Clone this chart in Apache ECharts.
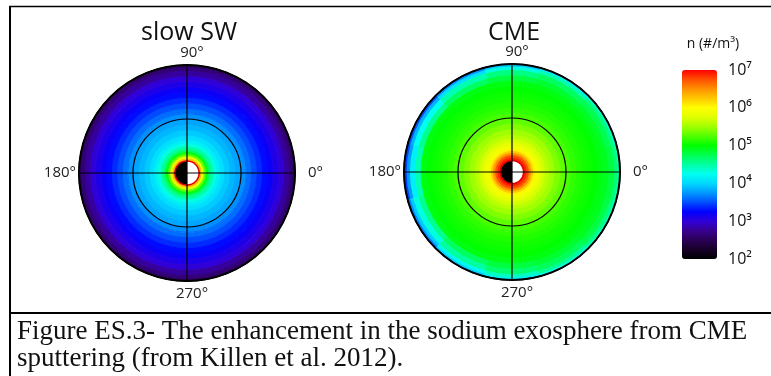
<!DOCTYPE html>
<html>
<head>
<meta charset="utf-8">
<script src="https://cdn.jsdelivr.net/npm/echarts@6/dist/echarts.min.js"></script>
<style>
  html, body { margin: 0; padding: 0; background: #fff; }
  #main { width: 771px; height: 376px; }
</style>
</head>
<body>
<div id="main"></div>
<script>
// ring edges, in units of the outer radius of each disk
const ringEdges = [0.10, 0.12, 0.14, 0.16, 0.18, 0.20, 0.22, 0.25, 0.28, 0.31, 0.35, 0.40,
  0.45, 0.50, 0.55, 0.60, 0.65, 0.70, 0.75, 0.80, 0.85, 0.90, 0.95, 0.98, 1.00];
// log10 n (#/m3) in each ring
const slowSW = [6.9, 6.3, 5.8, 5.3, 4.95, 4.7, 4.5, 4.3, 4.15, 4.05, 3.95, 3.87,
  3.8, 3.72, 3.6, 3.48, 3.38, 3.28, 3.2, 3.1, 3.0, 2.8, 2.65, 2.55];
const cme = [7.0, 6.9, 6.75, 6.5, 6.25, 6.05, 5.9, 5.8, 5.7, 5.6, 5.5, 5.4,
  5.3, 5.22, 5.15, 5.1, 5.06, 5.03, 5.0, 4.95];
// CME outer rings (0.85-1.0) by direction, every 30 deg from 0
const cmeOuterAngles = [0, 30, 60, 90, 120, 150, 180, 210, 240, 270, 300, 330];
const cmeOuter = [
  [4.9, 4.8, 4.65, 4.45],
  [4.88, 4.75, 4.6, 4.35],
  [4.85, 4.7, 4.45, 4.15],
  [4.8, 4.6, 4.3, 3.95],
  [4.7, 4.45, 4.05, 3.7],
  [4.55, 4.25, 3.85, 3.5],
  [4.45, 4.15, 3.75, 3.45],
  [4.55, 4.3, 3.95, 3.65],
  [4.7, 4.5, 4.2, 3.95],
  [4.8, 4.65, 4.4, 4.15],
  [4.85, 4.72, 4.55, 4.3],
  [4.9, 4.78, 4.62, 4.4]
];
const planetRadius = [0.105, 0.1];
const panelTitles = ["slow SW", "CME"];
const angleTicks = [0, 90, 180, 270];
const sup = { 2: "\u00b2", 3: "\u00b3", 4: "\u2074", 5: "\u2075", 6: "\u2076", 7: "\u2077" };

const colors = ["#000000", "#160028", "#2a0055", "#380090", "#3000d8", "#0000ff", "#0050ff",
  "#0098ff", "#00d8ff", "#00fff0", "#00ffa0", "#00ff50", "#00ff00", "#50ff00", "#a0ff00",
  "#e0ff00", "#ffff00", "#ffc800", "#ff9000", "#ff5000", "#ff0000"];

// [r0, r1, log n, angle from, angle to]
function rings(vals) {
  return vals.map((v, i) => [ringEdges[i], ringEdges[i + 1], v, 0, 360]);
}
function cmeCells() {
  const out = rings(cme);
  const k0 = cme.length;
  cmeOuterAngles.forEach((a, j) => {
    cmeOuter[j].forEach((v, k) => {
      out.push([ringEdges[k0 + k], ringEdges[k0 + k + 1], v, a - 15, a + 15]);
    });
  });
  return out;
}

function ringItem(params, api) {
  const cs = params.coordSys;
  const a = api.coord([api.value(0), api.value(3)]);
  const b = api.coord([api.value(1), api.value(3)]);
  const e = api.coord([api.value(1), api.value(4)]);
  const r0 = Math.hypot(a[0] - cs.cx, a[1] - cs.cy);
  const r1 = Math.hypot(b[0] - cs.cx, b[1] - cs.cy);
  const full = api.value(4) - api.value(3) >= 360;
  const s = Math.atan2(b[1] - cs.cy, b[0] - cs.cx);
  const t = Math.atan2(e[1] - cs.cy, e[0] - cs.cx);
  const c = api.visual("color");
  return {
    type: "sector",
    shape: {
      cx: cs.cx, cy: cs.cy, r0: r0, r: r1,
      startAngle: full ? 0 : t, endAngle: full ? Math.PI * 2 : s, clockwise: true
    },
    style: { fill: c, stroke: c, lineWidth: 1 }
  };
}

function planetItem(params, api) {
  const cs = params.coordSys;
  const p = api.coord([api.value(0), 0]);
  const r = Math.hypot(p[0] - cs.cx, p[1] - cs.cy);
  return {
    type: "group",
    children: [
      { type: "circle", shape: { cx: cs.cx, cy: cs.cy, r: r + 1.5 }, style: { fill: "#e00000" } },
      { type: "sector", shape: { cx: cs.cx, cy: cs.cy, r0: 0, r: r, startAngle: Math.PI / 2, endAngle: Math.PI * 1.5 }, style: { fill: "#000" } },
      { type: "sector", shape: { cx: cs.cx, cy: cs.cy, r0: 0, r: r, startAngle: -Math.PI / 2, endAngle: Math.PI / 2 }, style: { fill: "#fff" } }
    ]
  };
}

const chart = echarts.init(document.getElementById("main"));
const centers = [[187, 173], [512, 172]];

const option = {
  animation: false,
  title: panelTitles.map((t, i) => ({
    text: t,
    left: centers[i][0] + 2,
    top: 19,
    textAlign: "center",
    padding: 0,
    textStyle: { fontFamily: "Open Sans", fontSize: 25, fontWeight: "normal", color: "#111", lineHeight: 28 }
  })),
  polar: centers.map(c => ({ center: c, radius: 108 })),
  angleAxis: centers.map((c, i) => ({
    polarIndex: i,
    type: "value",
    min: 0,
    max: 360,
    interval: 90,
    startAngle: 0,
    clockwise: false,
    z: 5,
    axisLine: { lineStyle: { color: "#000", width: 2 } },
    axisTick: { show: false },
    splitLine: { lineStyle: { color: "#000", width: 1.2 } },
    axisLabel: {
      margin: 3,
      padding: [2, 0, 2, 10],
      fontFamily: "Open Sans",
      fontSize: 15,
      color: "#222",
      formatter: v => (angleTicks.indexOf(v) >= 0 ? v + "\u00b0" : "")
    }
  })),
  radiusAxis: centers.map((c, i) => ({
    polarIndex: i,
    type: "value",
    min: 0,
    max: 1,
    interval: 0.5,
    z: 5,
    axisLine: { show: false },
    axisTick: { show: false },
    axisLabel: { show: false },
    splitLine: { lineStyle: { color: "#000", width: 1.2 } }
  })),
  grid: { left: 682, top: 70, width: 35, height: 189 },
  xAxis: { type: "value", show: false },
  yAxis: {
    type: "value",
    min: 2,
    max: 7,
    interval: 1,
    position: "right",
    axisLine: { show: false },
    axisTick: { show: false },
    splitLine: { show: false },
    axisLabel: {
      margin: 11,
      padding: [7, 0, 0, 0],
      fontFamily: "Open Sans",
      fontSize: 16,
      color: "#111",
      formatter: v => "10" + sup[v]
    }
  },
  visualMap: {
    type: "continuous",
    min: 2,
    max: 7,
    dimension: 2,
    seriesIndex: [0, 1],
    calculable: false,
    left: 667,
    top: 55,
    itemWidth: 35,
    itemHeight: 189,
    inRange: { color: colors }
  },
  graphic: [
    { type: "line", shape: { x1: 9, y1: 6.5, x2: 771, y2: 6.5 }, style: { stroke: "#000", lineWidth: 1.5 } },
    { type: "line", shape: { x1: 10, y1: 6, x2: 10, y2: 376 }, style: { stroke: "#000", lineWidth: 2 } },
    { type: "line", shape: { x1: 9, y1: 313, x2: 771, y2: 313 }, style: { stroke: "#000", lineWidth: 2 } },
    { type: "text", style: { text: "n (#/m\u00b3)", x: 713, y: 44, align: "center", verticalAlign: "middle", fontFamily: "Open Sans", fontSize: 14, fill: "#111" } },
    { type: "text", style: { text: "Figure ES.3- The enhancement in the sodium exosphere from CME", x: 17, y: 332, verticalAlign: "middle", fontFamily: "Liberation Serif", fontSize: 27, fill: "#111" } },
    { type: "text", style: { text: "sputtering (from Killen et al. 2012).", x: 17, y: 359, verticalAlign: "middle", fontFamily: "Liberation Serif", fontSize: 27, fill: "#111" } }
  ],
  series: [
    { type: "custom", coordinateSystem: "polar", polarIndex: 0, renderItem: ringItem, data: rings(slowSW), z: 2 },
    { type: "custom", coordinateSystem: "polar", polarIndex: 1, renderItem: ringItem, data: cmeCells(), z: 2 },
    { type: "custom", coordinateSystem: "polar", polarIndex: 0, renderItem: planetItem, data: [[planetRadius[0], 0]], z: 3 },
    { type: "custom", coordinateSystem: "polar", polarIndex: 1, renderItem: planetItem, data: [[planetRadius[1], 0]], z: 3 }
  ]
};
chart.setOption(option);
</script>
</body>
</html>
